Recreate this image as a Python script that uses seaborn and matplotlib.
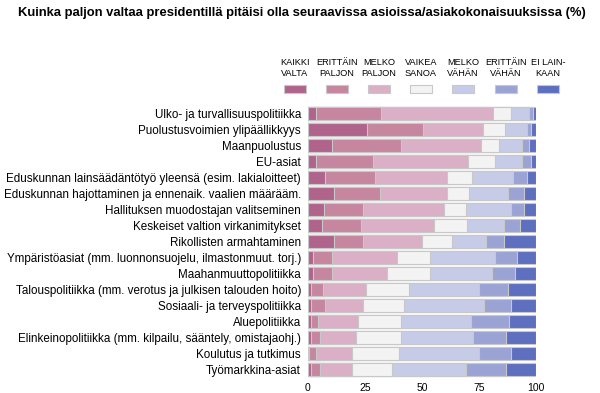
import matplotlib
matplotlib.use("Agg")
import matplotlib.pyplot as plt
from matplotlib.patches import Rectangle
import seaborn as sns
import numpy as np
import pandas as pd

title = "Kuinka paljon valtaa presidentillä pitäisi olla seuraavissa asioissa/asiakokonaisuuksissa (%)"

topics = [
    "Ulko- ja turvallisuuspolitiikka",
    "Puolustusvoimien ylipäällikkyys",
    "Maanpuolustus",
    "EU-asiat",
    "Eduskunnan lainsäädäntötyö yleensä (esim. lakialoitteet)",
    "Eduskunnan hajottaminen ja ennenaik. vaalien määrääm.",
    "Hallituksen muodostajan valitseminen",
    "Keskeiset valtion virkanimitykset",
    "Rikollisten armahtaminen",
    "Ympäristöasiat (mm. luonnonsuojelu, ilmastonmuut. torj.)",
    "Maahanmuuttopolitiikka",
    "Talouspolitiikka (mm. verotus ja julkisen talouden hoito)",
    "Sosiaali- ja terveyspolitiikka",
    "Aluepolitiikka",
    "Elinkeinopolitiikka (mm. kilpailu, sääntely, omistajaohj.)",
    "Koulutus ja tutkimus",
    "Työmarkkina-asiat",
]

answers = ["KAIKKI\nVALTA", "ERITTÄIN\nPALJON", "MELKO\nPALJON", "VAIKEA\nSANOA",
           "MELKO\nVÄHÄN", "ERITTÄIN\nVÄHÄN", "EI LAIN-\nKAAN"]

kaikki_valta = [3.4, 25.9, 10.4, 3.4, 7.3, 11.4, 7.0, 6.3, 11.4, 2.3, 2.0, 1.3, 1.3, 1.2, 1.2, 0.6, 1.2]
erittain_paljon = [28.5, 24.4, 30.2, 25.0, 21.9, 20.0, 17.0, 16.8, 12.9, 8.1, 8.4, 5.1, 6.2, 3.0, 4.1, 2.8, 4.1]
melko_paljon = [49.1, 26.3, 35.1, 41.6, 31.9, 29.4, 35.6, 32.0, 25.7, 28.5, 24.1, 19.0, 16.8, 17.9, 15.6, 15.8, 13.9]
vaikea_sanoa = [8.0, 9.8, 8.2, 12.2, 11.0, 9.8, 9.7, 14.8, 13.0, 14.6, 19.0, 18.9, 18.0, 18.7, 19.9, 20.7, 17.6]
melko_vahan = [8.0, 9.5, 10.1, 11.8, 17.7, 17.1, 19.7, 16.1, 15.0, 28.5, 27.3, 30.7, 34.7, 30.8, 31.7, 35.2, 32.5]
erittain_vahan = [1.8, 1.8, 2.8, 3.8, 6.1, 7.0, 5.7, 7.0, 8.0, 9.8, 10.0, 12.6, 12.0, 16.6, 14.5, 13.9, 17.7]
ei_lainkaan = [1.2, 2.3, 3.2, 2.2, 4.1, 5.3, 5.3, 7.0, 14.0, 8.2, 9.2, 12.4, 11.0, 11.8, 13.0, 11.0, 13.0]

colors = ["#b0648c", "#c6869f", "#dbb0c6", "#f3f3f3", "#c6cbe8", "#9aa3d4", "#5f6fbf"]

series = [kaikki_valta, erittain_paljon, melko_paljon, vaikea_sanoa,
          melko_vahan, erittain_vahan, ei_lainkaan]
df = pd.DataFrame(np.array(series).T, columns=answers)
df["topic"] = topics
cum = df[answers].cumsum(axis=1)

sns.set_style("white")
plt.rcParams["font.family"] = ["Liberation Sans", "DejaVu Sans"]
plt.rcParams["text.color"] = "black"
plt.rcParams["xtick.color"] = "black"
plt.rcParams["ytick.color"] = "black"

fig = plt.figure(figsize=(6, 3.93), dpi=100)
ax = fig.add_axes([0.5133, 0.0394, 0.38, 0.6922])

# draw cumulative layers, widest first, so each segment shows on top
for i in range(len(answers) - 1, -1, -1):
    sns.barplot(x=cum[answers[i]], y=df["topic"], orient="h", color=colors[i],
                saturation=1, width=0.8, edgecolor="#c8c8c8", linewidth=0.8, ax=ax)

ax.set_xlim(0, 100)
ax.set_ylim(16.5, -0.5)
ax.set_xticks([0, 25, 50, 75, 100])
ax.set_xlabel("")
ax.set_ylabel("")
sns.despine(ax=ax, left=True, bottom=True)
ax.tick_params(axis="y", length=0, pad=5, labelsize=8.4)
ax.tick_params(axis="x", length=2, color="#bbbbbb", pad=2, labelsize=7.5)

fig.text(0.03, 0.968, title, fontsize=9.35, fontweight="bold", va="center", ha="left")

# legend
centers = [295, 337, 379, 421, 463, 506, 548]
for c, lab, col in zip(centers, answers, colors):
    fig.text(c / 600, 1 - 68 / 393, lab, fontsize=6.6, ha="center", va="center", linespacing=1.15)
    fig.patches.append(Rectangle(((c - 11) / 600, 1 - 93 / 393), 22 / 600, 8 / 393,
                                 transform=fig.transFigure, facecolor=col,
                                 edgecolor="#c8c8c8", linewidth=0.8))

fig.savefig("out.png", dpi=100)
